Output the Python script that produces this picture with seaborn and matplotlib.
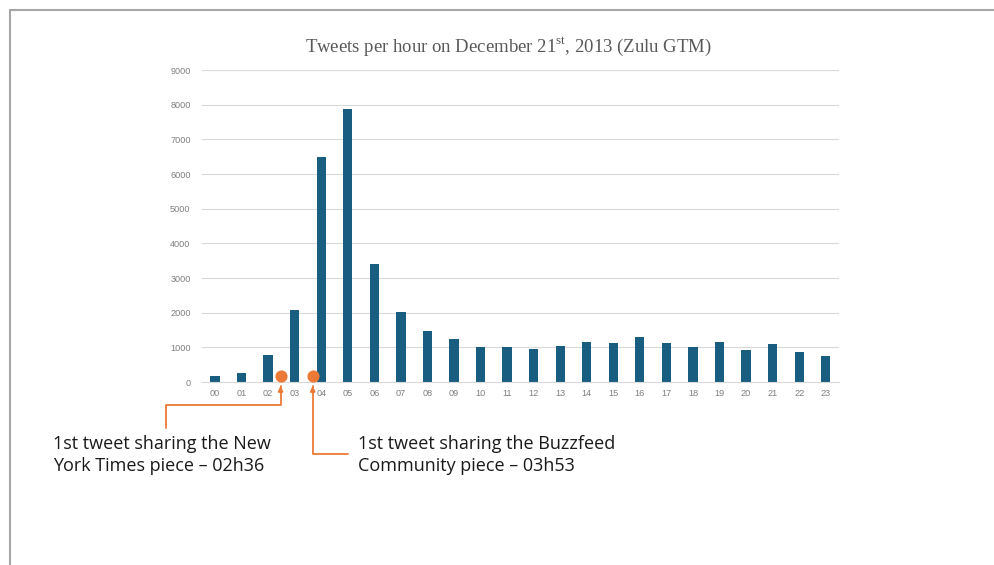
import matplotlib
matplotlib.use("Agg")
import matplotlib.pyplot as plt
import matplotlib.transforms as mtransforms
import seaborn as sns
import pandas as pd

hours = [f"{h:02d}" for h in range(24)]
tweets = [180, 250, 770, 2075, 6490, 7870, 3390, 2025, 1460, 1240, 1000, 1000,
          960, 1050, 1150, 1125, 1300, 1125, 1000, 1150, 915, 1095, 875, 760]
yticks = [0, 1000, 2000, 3000, 4000, 5000, 6000, 7000, 8000, 9000]

# first shares: position on the hour axis and caption
event_x = [2.47, 3.68]
event_labels = ["1st tweet sharing the New\nYork Times piece – 02h36",
                "1st tweet sharing the Buzzfeed\nCommunity piece – 03h53"]

BAR = "#195e80"
ORANGE = "#ec7a36"
GREY = "#595959"
TICK = "#7f7f7f"

sns.set_theme(style="white")
plt.rcParams["mathtext.fontset"] = "custom"
plt.rcParams["mathtext.rm"] = "Liberation Serif"

W, H = 994, 565
fig = plt.figure(figsize=(W / 100, H / 100), dpi=100)
ax = fig.add_axes([201.7 / W, 1 - 382 / H, (839 - 201.7) / W, (382 - 70) / H])

df = pd.DataFrame({"hour": hours, "tweets": tweets})
sns.barplot(data=df, x="hour", y="tweets", color=BAR, saturation=1, width=0.35,
            linewidth=0, ax=ax)

ax.set_xlim(-0.5, 23.5)
ax.set_ylim(0, 9000)
ax.set_yticks(yticks)
ax.set_yticklabels([str(v) for v in yticks])
ax.set_xlabel("")
ax.set_ylabel("")
ax.grid(axis="y", color="#d9d9d9", linewidth=0.8)
ax.set_axisbelow(True)
for s in ["top", "right", "left"]:
    ax.spines[s].set_visible(False)
ax.spines["bottom"].set_color("#d9d9d9")
ax.spines["bottom"].set_linewidth(0.8)
ax.tick_params(axis="both", length=0, labelsize=6.6, labelcolor=TICK)
ax.tick_params(axis="y", pad=8)
ax.tick_params(axis="x", pad=5)
for lab in ax.get_xticklabels() + ax.get_yticklabels():
    lab.set_family("Liberation Sans")

fig.text(508.5 / W, 1 - 47 / H,
         r"Tweets per hour on December 21$^{\mathrm{st}}$, 2013 (Zulu GTM)",
         family="Liberation Serif", fontsize=13.5, color=GREY,
         ha="center", va="center")

# figure-pixel y, data x
bt = mtransforms.blended_transform_factory(ax.transData, fig.transFigure)


def fy(py):
    return 1 - py / H


def dx(px):
    return (px - 215.0) / 26.56


# markers
ax.scatter(event_x, [160, 160], s=60, color=ORANGE, zorder=5, clip_on=False)

# leader lines with arrowheads
path1_x = [event_x[0], event_x[0], dx(166), dx(166)]
path1_y = [fy(386), fy(405), fy(405), fy(428)]
path2_x = [event_x[1], event_x[1], dx(348)]
path2_y = [fy(386), fy(454), fy(454)]
for px_, py_ in [(path1_x, path1_y), (path2_x, path2_y)]:
    ax.plot(px_, py_, color=ORANGE, linewidth=1.3, transform=bt, clip_on=False)
    ax.annotate("", xy=(px_[0], py_[0]), xycoords=bt,
                xytext=(px_[0], py_[0] - 0.012), textcoords=bt,
                arrowprops=dict(arrowstyle="-|>", color=ORANGE, lw=1.3,
                                mutation_scale=7, shrinkA=0, shrinkB=0))

for xpix, label in zip([53, 358], event_labels):
    fig.text(xpix / W, fy(455), label, family=["Open Sans", "DejaVu Sans"],
             fontsize=13, color="#1a1a1a", ha="left", va="center",
             linespacing=1.3)

# slide frame
fig.add_artist(plt.Line2D([10 / W, 1], [fy(9.5), fy(9.5)], color="#a6a6a6",
                          linewidth=1.5, transform=fig.transFigure))
fig.add_artist(plt.Line2D([10 / W, 10 / W], [fy(9.5), 0], color="#a6a6a6",
                          linewidth=1.5, transform=fig.transFigure))

fig.savefig("out.png", dpi=100)
